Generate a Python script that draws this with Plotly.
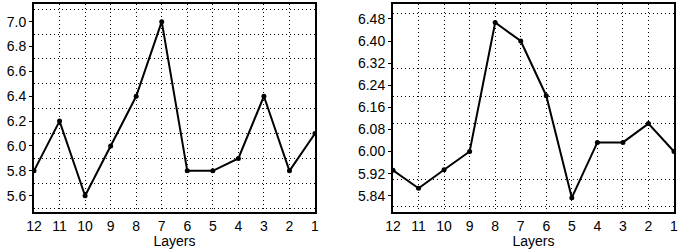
import plotly.graph_objects as go

layers = [12, 11, 10, 9, 8, 7, 6, 5, 4, 3, 2, 1]
left_values = [5.8, 6.2, 5.6, 6.0, 6.4, 7.0, 5.8, 5.8, 5.9, 6.4, 5.8, 6.1]
right_values = [5.932, 5.867, 5.934, 6.00, 6.467, 6.40, 6.202, 5.833, 6.033, 6.033, 6.101, 6.00]
x_ticks = [str(v) for v in layers]

W, H = 681, 249
fig = go.Figure()
line = dict(color="black", width=2)
marker = dict(color="black", size=5)
fig.add_trace(go.Scatter(x=layers, y=left_values, mode="lines+markers", line=line, marker=marker, xaxis="x", yaxis="y"))
fig.add_trace(go.Scatter(x=layers, y=right_values, mode="lines+markers", line=line, marker=marker, xaxis="x2", yaxis="y2"))

font = dict(family="Liberation Sans, Arial", size=14, color="black")
dash = "1px,3px"
grid = dict(showgrid=True, gridcolor="black", gridwidth=1, griddash=dash)
frame = dict(showline=True, linecolor="black", linewidth=2, mirror=True, zeroline=False, automargin=False)

def xax(domain, anchor):
    return dict(domain=domain, anchor=anchor, range=[12, 1], tickmode="array",
                tickvals=layers, ticktext=x_ticks, ticks="", tickfont=font,
                title=dict(text="Layers", font=font, standoff=0), **grid, **frame)

def minor():
    return dict(dtick=0.1, tick0=0, showgrid=True, gridcolor="black", gridwidth=1, griddash=dash, ticklen=0)

fig.update_layout(
    width=W, height=H, margin=dict(l=0, r=0, t=4, b=37, autoexpand=False),
    paper_bgcolor="white", plot_bgcolor="white", showlegend=False,
    font=font,
    xaxis=xax([34 / W, 315 / W], "y"),
    xaxis2=xax([393 / W, 674 / W], "y2"),
    yaxis=dict(domain=[0, 1], anchor="x", range=[5.469, 7.142], tickmode="linear", tick0=5.6, dtick=0.2,
               tickformat=".1f", ticks="outside", ticklen=3, tickcolor="black", tickfont=font,
               showgrid=False, minor=minor(), **frame),
    yaxis2=dict(domain=[0, 1], anchor="x2", range=[5.781, 6.534], tickmode="linear", tick0=5.84, dtick=0.08,
                tickformat=".2f", ticks="outside", ticklen=3, tickcolor="black", tickfont=font,
                showgrid=False, minor=minor(), **frame),
)
fig.write_html("out.html", config={"displayModeBar": False},
               post_script="document.body.style.margin='0';document.body.style.overflow='hidden';")
